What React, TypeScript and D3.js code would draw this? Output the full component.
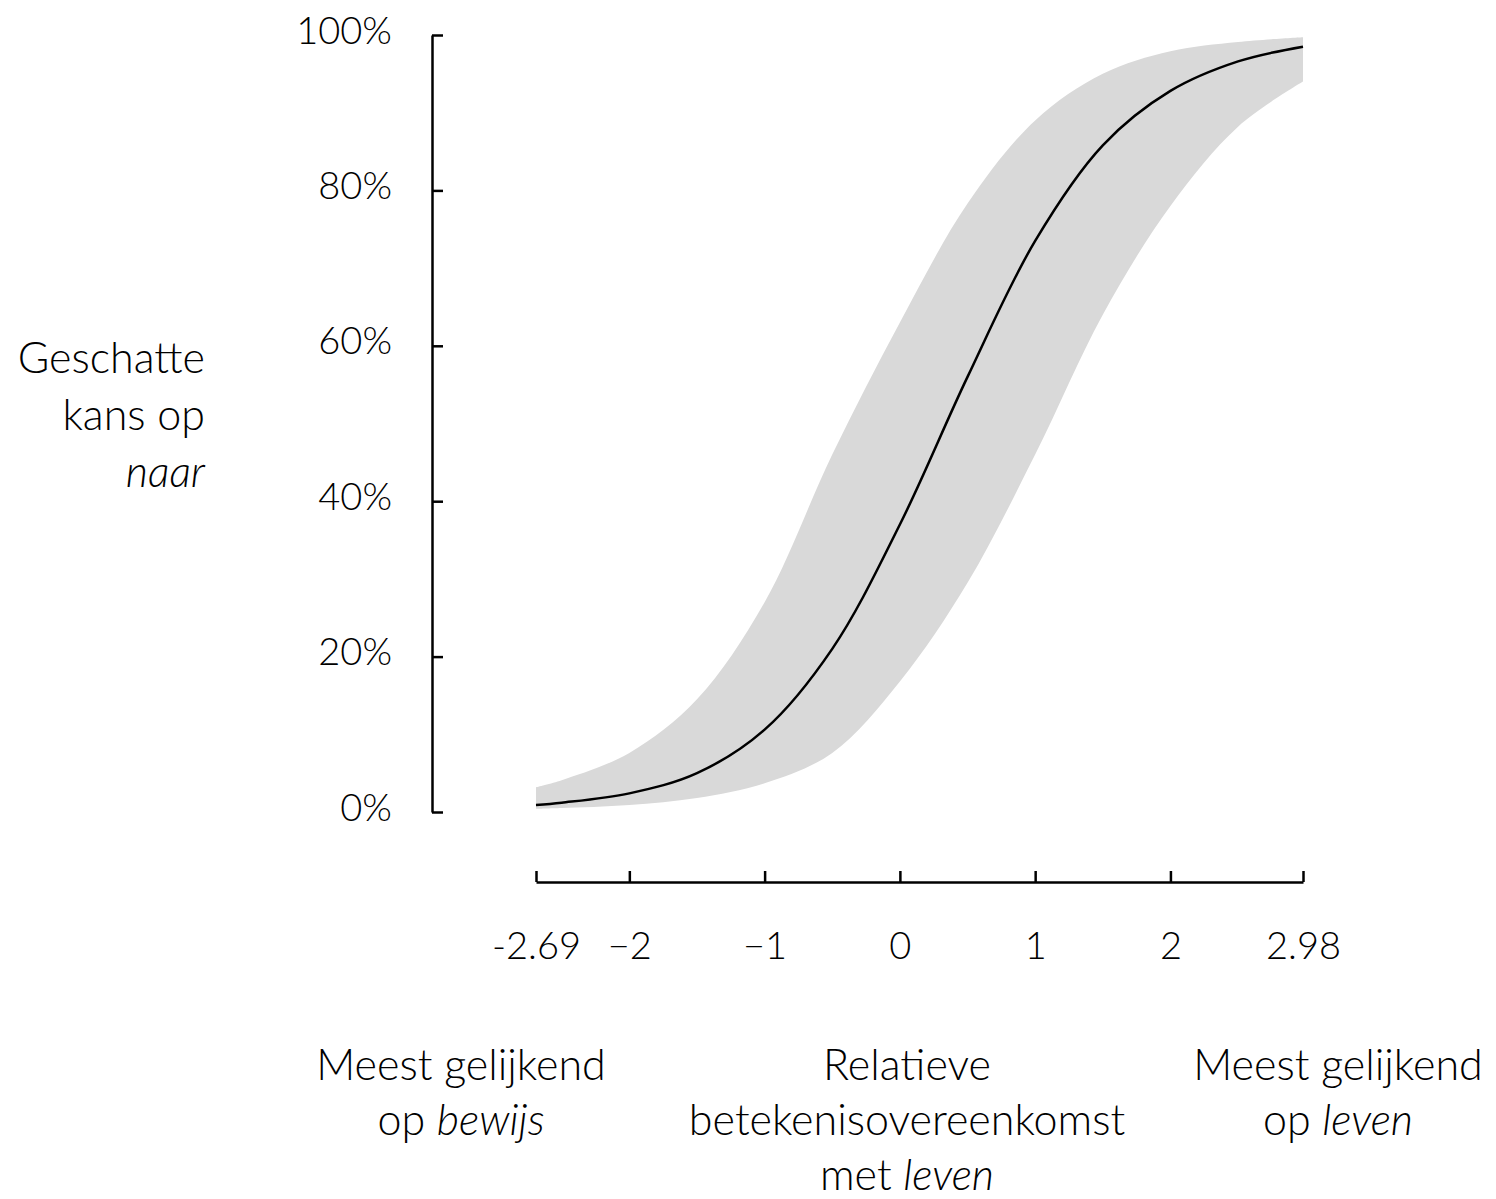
import * as d3 from "d3"
import { useEffect, useRef } from "react"

// relative betekenisovereenkomst (x) and estimated probability in %
const xValues = [-2.69, -2.5, -2, -1.5, -1, -0.5, 0, 0.5, 1, 1.5, 2, 2.5, 2.98]
const meanValues = [0.9, 1.2, 2.4, 5.0, 10.6, 21, 37, 56, 73.5, 85.8, 92.8, 96.6, 98.5]
const upperValues = [3.2, 4.1, 7.6, 14.5, 27, 46, 63, 78.3, 89, 95, 97.9, 99.1, 99.7]
const lowerValues = [0.4, 0.5, 0.9, 1.8, 3.7, 7.6, 16.8, 29.5, 46, 64, 78, 88.2, 94]

const xTicks = [-2.69, -2, -1, 0, 1, 2, 2.98]
const xTickLabels = ["-2.69", "\u22122", "\u22121", "0", "1", "2", "2.98"]
const yTicks = [0, 20, 40, 60, 80, 100]

const yTitle = ["Geschatte", "kans op", "naar"]

export default function App() {
    const svgRef = useRef<SVGSVGElement>(null)

    useEffect(() => {
        const width = 1496
        const height = 1199
        const font = "Lato, 'Open Sans', sans-serif"

        const xScale = d3.scaleLinear([-2.69, 2.98], [536, 1303])
        const yScale = d3.scaleLinear([0, 100], [812, 35])

        if (svgRef.current !== null) {
            svgRef.current.innerHTML = ""
        }

        const svg = d3.select(svgRef.current)
            .attr("width", width)
            .attr("height", height)
            .attr("viewBox", [0, 0, width, height])
            .style("font-family", font)

        const rows = xValues.map((x, i) => ({ x, mean: meanValues[i], lo: lowerValues[i], hi: upperValues[i] }))
        const curve = d3.curveCatmullRom.alpha(0.5)

        const band = d3.area<typeof rows[number]>()
            .x(d => xScale(d.x))
            .y0(d => yScale(d.lo))
            .y1(d => yScale(d.hi))
            .curve(curve)

        const line = d3.line<typeof rows[number]>()
            .x(d => xScale(d.x))
            .y(d => yScale(d.mean))
            .curve(curve)

        svg.append("path")
            .datum(rows)
            .attr("fill", "#d9d9d9")
            .attr("d", band)

        svg.append("path")
            .datum(rows)
            .attr("fill", "none")
            .attr("stroke", "#000")
            .attr("stroke-width", 2.5)
            .attr("d", line)

        // y axis, ticks pointing inward
        svg.append("g")
            .attr("transform", "translate(432, 0)")
            .call(d3.axisLeft(yScale)
                .tickValues(yTicks)
                .tickFormat(d => `${d}%`)
                .tickSizeInner(-11)
                .tickSizeOuter(0)
                .tickPadding(40))
            .call(g => g.selectAll("path, line").attr("stroke", "#000").attr("stroke-width", 2.5))
            .call(g => g.selectAll("text")
                .attr("fill", "#000")
                .attr("dy", 8)
                .style("font-family", font)
                .style("font-weight", 300)
                .style("font-size", "38px"))

        // x axis, ticks pointing up
        svg.append("g")
            .attr("transform", "translate(0, 882)")
            .call(d3.axisBottom(xScale)
                .tickValues(xTicks)
                .tickFormat((d, i) => xTickLabels[i])
                .tickSizeInner(-11)
                .tickSizeOuter(0))
            .call(g => g.selectAll("path, line").attr("stroke", "#000").attr("stroke-width", 2.5))
            .call(g => g.selectAll("text")
                .attr("fill", "#000")
                .attr("y", 77)
                .attr("dy", 0)
                .style("font-family", font)
                .style("font-weight", 300)
                .style("font-size", "38px"))

        // y title
        const yt = svg.append("text")
            .attr("text-anchor", "end")
            .style("font-size", "43px")
            .style("font-weight", 300)
        yTitle.forEach((t, i) => {
            yt.append("tspan")
                .attr("x", 205)
                .attr("y", 373 + i * 57)
                .style("font-style", i === 2 ? "italic" : "normal")
                .text(t)
        })

        // bottom labels
        const bottomLabels: { x: number, lines: [string, string][] }[] = [
            { x: 461, lines: [["Meest gelijkend", ""], ["op ", "bewijs"]] },
            { x: 907, lines: [["Relatieve", ""], ["betekenisovereenkomst", ""], ["met ", "leven"]] },
            { x: 1338, lines: [["Meest gelijkend", ""], ["op ", "leven"]] },
        ]
        bottomLabels.forEach(lab => {
            lab.lines.forEach((ln, i) => {
                const t = svg.append("text")
                    .attr("x", lab.x)
                    .attr("y", 1080 + i * 55)
                    .attr("text-anchor", "middle")
                    .style("font-size", "43px")
                    .style("font-weight", 300)
                t.append("tspan").text(ln[0])
                if (ln[1]) t.append("tspan").style("font-style", "italic").text(ln[1])
            })
        })
    }, [])

    return <>
        <svg ref={svgRef} style={{ position: "absolute", left: 0, top: 0 }}></svg>
    </>
}
